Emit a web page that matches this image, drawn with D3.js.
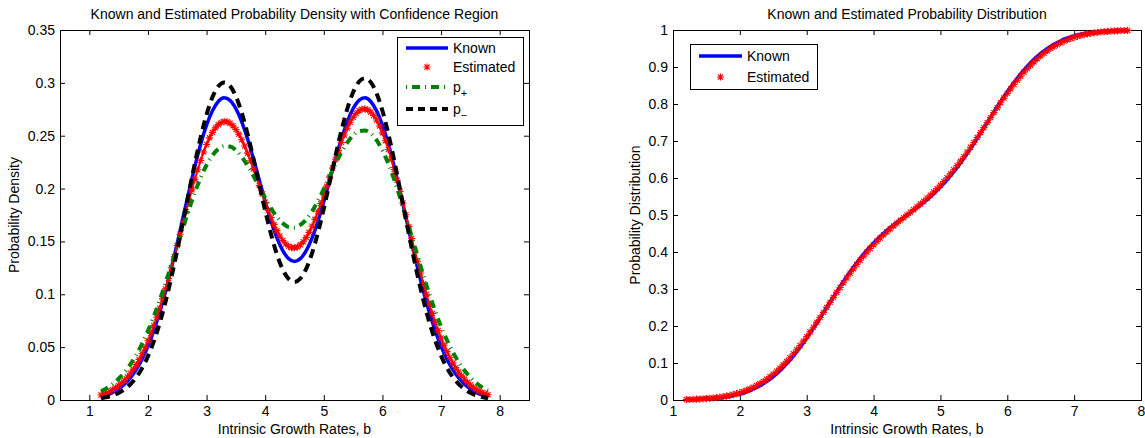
<!DOCTYPE html>
<html>
<head>
<meta charset="utf-8">
<script src="https://cdn.jsdelivr.net/npm/d3@7"></script>
<style>
  body { margin: 0; background: #fff; }
  svg { display: block; }
</style>
</head>
<body>
<svg id="chart" width="1145" height="438"></svg>
<script>
// sampling grid of the growth rate b
const gridStart = 1.2;
const coarseStep = 0.1;   // known, p+, p-
const fineStep = 0.05;    // estimated (star markers)

// left panel: densities
const knownDensity = [
  0.0032, 0.0048, 0.0072, 0.0105, 0.0149, 0.0209, 0.0287, 0.0386, 0.0508, 0.0656,
  0.0829, 0.1027, 0.1247, 0.1483, 0.1729, 0.1974, 0.2208, 0.2421, 0.2600, 0.2736,
  0.2824, 0.2858, 0.2834, 0.2756, 0.2632, 0.2469, 0.2280, 0.2079, 0.1878, 0.1692,
  0.1534, 0.1413, 0.1337, 0.1311, 0.1337, 0.1413, 0.1534, 0.1692, 0.1878, 0.2079,
  0.2280, 0.2469, 0.2632, 0.2756, 0.2834, 0.2858, 0.2824, 0.2736, 0.2600, 0.2421,
  0.2208, 0.1974, 0.1729, 0.1483, 0.1247, 0.1027, 0.0829, 0.0656, 0.0508, 0.0386,
  0.0287, 0.0209, 0.0149, 0.0105, 0.0072, 0.0048, 0.0032
];
const estimatedDensity = [
  0.0047, 0.0057, 0.0068, 0.0081, 0.0097, 0.0115, 0.0136, 0.0160, 0.0187, 0.0218,
  0.0253, 0.0292, 0.0336, 0.0384, 0.0438, 0.0496, 0.0560, 0.0629, 0.0704, 0.0783,
  0.0868, 0.0957, 0.1051, 0.1149, 0.1251, 0.1355, 0.1461, 0.1568, 0.1675, 0.1782,
  0.1886, 0.1988, 0.2085, 0.2178, 0.2266, 0.2346, 0.2417, 0.2480, 0.2532, 0.2574,
  0.2605, 0.2625, 0.2634, 0.2632, 0.2618, 0.2594, 0.2559, 0.2515, 0.2462, 0.2402,
  0.2335, 0.2263, 0.2186, 0.2108, 0.2028, 0.1949, 0.1871, 0.1796, 0.1726, 0.1661,
  0.1602, 0.1551, 0.1509, 0.1476, 0.1454, 0.1441, 0.1440, 0.1448, 0.1468, 0.1497,
  0.1538, 0.1586, 0.1644, 0.1709, 0.1781, 0.1858, 0.1939, 0.2023, 0.2108, 0.2194,
  0.2278, 0.2359, 0.2436, 0.2507, 0.2571, 0.2627, 0.2674, 0.2710, 0.2736, 0.2751,
  0.2754, 0.2745, 0.2724, 0.2691, 0.2648, 0.2592, 0.2527, 0.2453, 0.2370, 0.2279,
  0.2181, 0.2079, 0.1972, 0.1863, 0.1752, 0.1640, 0.1528, 0.1417, 0.1308, 0.1202,
  0.1100, 0.1001, 0.0908, 0.0819, 0.0736, 0.0658, 0.0586, 0.0519, 0.0458, 0.0402,
  0.0351, 0.0306, 0.0265, 0.0228, 0.0196, 0.0167, 0.0142, 0.0120, 0.0101, 0.0085,
  0.0071, 0.0059, 0.0049
];
const pPlus = [
  0.0082, 0.0112, 0.0151, 0.0201, 0.0262, 0.0337, 0.0427, 0.0532, 0.0654, 0.0791,
  0.0942, 0.1106, 0.1279, 0.1456, 0.1633, 0.1804, 0.1963, 0.2104, 0.2223, 0.2314,
  0.2374, 0.2401, 0.2397, 0.2362, 0.2300, 0.2218, 0.2120, 0.2014, 0.1910, 0.1813,
  0.1732, 0.1672, 0.1637, 0.1632, 0.1656, 0.1708, 0.1786, 0.1884, 0.1997, 0.2116,
  0.2234, 0.2343, 0.2435, 0.2503, 0.2543, 0.2549, 0.2521, 0.2458, 0.2362, 0.2237,
  0.2087, 0.1917, 0.1736, 0.1547, 0.1359, 0.1176, 0.1002, 0.0841, 0.0695, 0.0566,
  0.0454, 0.0358, 0.0279, 0.0213, 0.0161, 0.0120, 0.0087
];
const pMinus = [
  0.0017, 0.0028, 0.0044, 0.0067, 0.0101, 0.0149, 0.0214, 0.0301, 0.0413, 0.0554,
  0.0726, 0.0929, 0.1160, 0.1416, 0.1689, 0.1967, 0.2238, 0.2487, 0.2700, 0.2863,
  0.2967, 0.3004, 0.2971, 0.2873, 0.2717, 0.2515, 0.2282, 0.2035, 0.1792, 0.1567,
  0.1377, 0.1234, 0.1145, 0.1116, 0.1149, 0.1242, 0.1390, 0.1584, 0.1812, 0.2060,
  0.2312, 0.2548, 0.2753, 0.2911, 0.3011, 0.3043, 0.3007, 0.2901, 0.2736, 0.2520,
  0.2268, 0.1993, 0.1711, 0.1435, 0.1176, 0.0941, 0.0736, 0.0562, 0.0419, 0.0305,
  0.0217, 0.0151, 0.0103, 0.0068, 0.0044, 0.0028, 0.0017
];

// right panel: distributions
const knownCdf = [
  0.0007, 0.0011, 0.0017, 0.0026, 0.0038, 0.0056, 0.0081, 0.0114, 0.0158, 0.0216,
  0.0290, 0.0383, 0.0497, 0.0633, 0.0794, 0.0979, 0.1188, 0.1420, 0.1671, 0.1938,
  0.2216, 0.2502, 0.2787, 0.3067, 0.3337, 0.3592, 0.3830, 0.4048, 0.4245, 0.4424,
  0.4585, 0.4731, 0.4868, 0.5000, 0.5132, 0.5269, 0.5415, 0.5576, 0.5755, 0.5952,
  0.6170, 0.6408, 0.6663, 0.6933, 0.7213, 0.7498, 0.7784, 0.8062, 0.8329, 0.8580,
  0.8812, 0.9021, 0.9206, 0.9367, 0.9503, 0.9617, 0.9710, 0.9784, 0.9842, 0.9886,
  0.9919, 0.9944, 0.9962, 0.9974, 0.9983, 0.9989, 0.9993
];
const estimatedCdf = [
  0.0011, 0.0014, 0.0017, 0.0021, 0.0026, 0.0031, 0.0038, 0.0045, 0.0054, 0.0064,
  0.0077, 0.0091, 0.0106, 0.0125, 0.0146, 0.0171, 0.0197, 0.0228, 0.0262, 0.0301,
  0.0343, 0.0390, 0.0442, 0.0498, 0.0560, 0.0627, 0.0699, 0.0777, 0.0861, 0.0950,
  0.1044, 0.1143, 0.1248, 0.1358, 0.1472, 0.1591, 0.1713, 0.1840, 0.1968, 0.2099,
  0.2233, 0.2368, 0.2503, 0.2639, 0.2774, 0.2908, 0.3041, 0.3170, 0.3299, 0.3424,
  0.3545, 0.3663, 0.3777, 0.3888, 0.3993, 0.4095, 0.4193, 0.4288, 0.4377, 0.4463,
  0.4547, 0.4627, 0.4705, 0.4780, 0.4856, 0.4927, 0.5000, 0.5073, 0.5144, 0.5220,
  0.5295, 0.5373, 0.5453, 0.5537, 0.5623, 0.5712, 0.5807, 0.5905, 0.6007, 0.6112,
  0.6223, 0.6337, 0.6455, 0.6576, 0.6701, 0.6830, 0.6959, 0.7092, 0.7226, 0.7361,
  0.7497, 0.7632, 0.7767, 0.7901, 0.8032, 0.8160, 0.8287, 0.8409, 0.8528, 0.8642,
  0.8752, 0.8857, 0.8956, 0.9050, 0.9139, 0.9223, 0.9301, 0.9373, 0.9440, 0.9502,
  0.9558, 0.9610, 0.9657, 0.9699, 0.9738, 0.9772, 0.9803, 0.9829, 0.9854, 0.9875,
  0.9894, 0.9909, 0.9923, 0.9936, 0.9946, 0.9955, 0.9962, 0.9969, 0.9974, 0.9979,
  0.9983, 0.9986, 0.9989
];

// ticks
const xTicks = [1, 2, 3, 4, 5, 6, 7, 8];
const densityTicks = [0, 0.05, 0.1, 0.15, 0.2, 0.25, 0.3, 0.35];
const cdfTicks = [0, 0.1, 0.2, 0.3, 0.4, 0.5, 0.6, 0.7, 0.8, 0.9, 1];

const FONT = '"Liberation Sans", Arial, Helvetica, sans-serif';
const STAR_R = 3.6;
const svg = d3.select('#chart');

function toPoints(values, step) {
    return values.map((v, i) => ({ x: +(gridStart + i * step).toFixed(2), y: v }));
}

// MATLAB style '*' marker: plus + cross
function starPath(r) {
    const a = r * 0.72;
    return `M${-r},0L${r},0M0,${-r}L0,${r}M${-a},${-a}L${a},${a}M${-a},${a}L${a},${-a}`;
}

function drawAxes(box, x, y, yTicks, title, yLabel, yLabelX) {
    const g = svg.append('g');

    const tickText = sel => sel.selectAll('.tick text')
        .attr('font-size', 14).attr('font-family', FONT).attr('fill', '#000');

    g.append('g')
        .attr('transform', `translate(0,${box.bottom})`)
        .call(d3.axisBottom(x).tickValues(xTicks).tickSize(-5).tickSizeOuter(0).tickPadding(6).tickFormat(d3.format('d')))
        .call(tickText);
    g.append('g')
        .attr('transform', `translate(0,${box.top})`)
        .call(d3.axisTop(x).tickValues(xTicks).tickSize(-5).tickSizeOuter(0).tickFormat(''));
    g.append('g')
        .attr('transform', `translate(${box.left},0)`)
        .call(d3.axisLeft(y).tickValues(yTicks).tickSize(-5).tickSizeOuter(0).tickPadding(5).tickFormat(d => String(d)))
        .call(tickText);
    g.append('g')
        .attr('transform', `translate(${box.right},0)`)
        .call(d3.axisRight(y).tickValues(yTicks).tickSize(-5).tickSizeOuter(0).tickFormat(''));

    g.selectAll('.domain').remove();
    g.selectAll('.tick line').attr('stroke', '#000');

    g.append('rect')
        .attr('x', box.left + 0.5).attr('y', box.top + 0.5)
        .attr('width', box.right - box.left).attr('height', box.bottom - box.top)
        .attr('fill', 'none').attr('stroke', '#000');

    const cx = (box.left + box.right) / 2;
    g.append('text')
        .attr('x', cx).attr('y', 19)
        .attr('text-anchor', 'middle')
        .attr('font-size', 14).attr('font-family', FONT)
        .text(title);
    g.append('text')
        .attr('x', cx).attr('y', 434)
        .attr('text-anchor', 'middle')
        .attr('font-size', 14).attr('font-family', FONT)
        .text('Intrinsic Growth Rates, b');
    g.append('text')
        .attr('transform', `translate(${yLabelX},${(box.top + box.bottom) / 2}) rotate(-90)`)
        .attr('text-anchor', 'middle')
        .attr('font-size', 14).attr('font-family', FONT)
        .text(yLabel);
}

function drawStars(g, data, x, y) {
    g.append('g').selectAll('path')
        .data(data)
        .join('path')
        .attr('transform', d => `translate(${x(d.x)},${y(d.y)})`)
        .attr('d', starPath(STAR_R))
        .attr('fill', 'none')
        .attr('stroke', '#ff0000')
        .attr('stroke-width', 1.1);
}

function legendRow(g, y, x0, x1, textX, label, sub, style) {
    if (style.star) {
        g.append('path')
            .attr('transform', `translate(${(x0 + x1) / 2},${y})`)
            .attr('d', starPath(STAR_R))
            .attr('fill', 'none').attr('stroke', '#ff0000').attr('stroke-width', 1.1);
    } else {
        g.append('line')
            .attr('x1', x0).attr('x2', x1).attr('y1', y).attr('y2', y)
            .attr('stroke', style.color).attr('stroke-width', style.width)
            .attr('stroke-dasharray', style.dash || null);
    }
    const t = g.append('text')
        .attr('x', textX).attr('y', y + 5)
        .attr('font-size', 14).attr('font-family', FONT)
        .text(label);
    if (sub) {
        t.append('tspan').attr('dy', 5).attr('font-size', 11).text(sub);
    }
}

// ---------------- left panel ----------------
const leftBox = { left: 60, right: 529, top: 30, bottom: 400 };
const xL = d3.scaleLinear().domain([0.5, 8.5]).range([leftBox.left, leftBox.right]);
const yL = d3.scaleLinear().domain([0, 0.35]).range([leftBox.bottom, leftBox.top]);

drawAxes(leftBox, xL, yL, densityTicks,
    'Known and Estimated Probability Density with Confidence Region',
    'Probability Density', 19);

const lineL = d3.line().x(d => xL(d.x)).y(d => yL(d.y)).curve(d3.curveMonotoneX);
const plotL = svg.append('g');

plotL.append('path')
    .datum(toPoints(knownDensity, coarseStep))
    .attr('d', lineL)
    .attr('fill', 'none').attr('stroke', '#0000ff').attr('stroke-width', 3.5);

const estL = toPoints(estimatedDensity, fineStep);
plotL.append('path')
    .datum(estL)
    .attr('d', lineL)
    .attr('fill', 'none').attr('stroke', '#ff0000').attr('stroke-width', 2);
drawStars(plotL, estL, xL, yL);

plotL.append('path')
    .datum(toPoints(pPlus, coarseStep))
    .attr('d', lineL)
    .attr('fill', 'none').attr('stroke', '#008000').attr('stroke-width', 4)
    .attr('stroke-dasharray', '8,5,1,5');

plotL.append('path')
    .datum(toPoints(pMinus, coarseStep))
    .attr('d', lineL)
    .attr('fill', 'none').attr('stroke', '#000').attr('stroke-width', 4)
    .attr('stroke-dasharray', '9,6');

// legend (left)
const legL = svg.append('g');
legL.append('rect')
    .attr('x', 397.5).attr('y', 37.5).attr('width', 126).attr('height', 88)
    .attr('fill', '#fff').attr('stroke', '#000');
legendRow(legL, 48, 406, 448, 453, 'Known', null, { color: '#0000ff', width: 3.5 });
legendRow(legL, 67, 406, 448, 453, 'Estimated', null, { star: true });
legendRow(legL, 87, 406, 448, 453, 'p', '+', { color: '#008000', width: 4, dash: '1,5,8,5' });
legendRow(legL, 109, 406, 448, 453, 'p', '\u2212', { color: '#000', width: 4, dash: '7,5' });

// ---------------- right panel ----------------
const rightBox = { left: 673, right: 1141, top: 30, bottom: 400 };
const xR = d3.scaleLinear().domain([1, 8]).range([rightBox.left, rightBox.right]);
const yR = d3.scaleLinear().domain([0, 1]).range([rightBox.bottom, rightBox.top]);

drawAxes(rightBox, xR, yR, cdfTicks,
    'Known and Estimated Probability Distribution',
    'Probability Distribution', 640);

const lineR = d3.line().x(d => xR(d.x)).y(d => yR(d.y)).curve(d3.curveMonotoneX);
const plotR = svg.append('g');

plotR.append('path')
    .datum(toPoints(knownCdf, coarseStep))
    .attr('d', lineR)
    .attr('fill', 'none').attr('stroke', '#0000ff').attr('stroke-width', 3.5);

const estR = toPoints(estimatedCdf, fineStep);
plotR.append('path')
    .datum(estR)
    .attr('d', lineR)
    .attr('fill', 'none').attr('stroke', '#ff0000').attr('stroke-width', 1.5);
drawStars(plotR, estR, xR, yR);

// legend (right)
const legR = svg.append('g');
legR.append('rect')
    .attr('x', 690.5).attr('y', 44.5).attr('width', 127).attr('height', 45)
    .attr('fill', '#fff').attr('stroke', '#000');
legendRow(legR, 56, 699, 742, 747, 'Known', null, { color: '#0000ff', width: 3.5 });
legendRow(legR, 77, 699, 742, 747, 'Estimated', null, { star: true });
</script>
</body>
</html>
